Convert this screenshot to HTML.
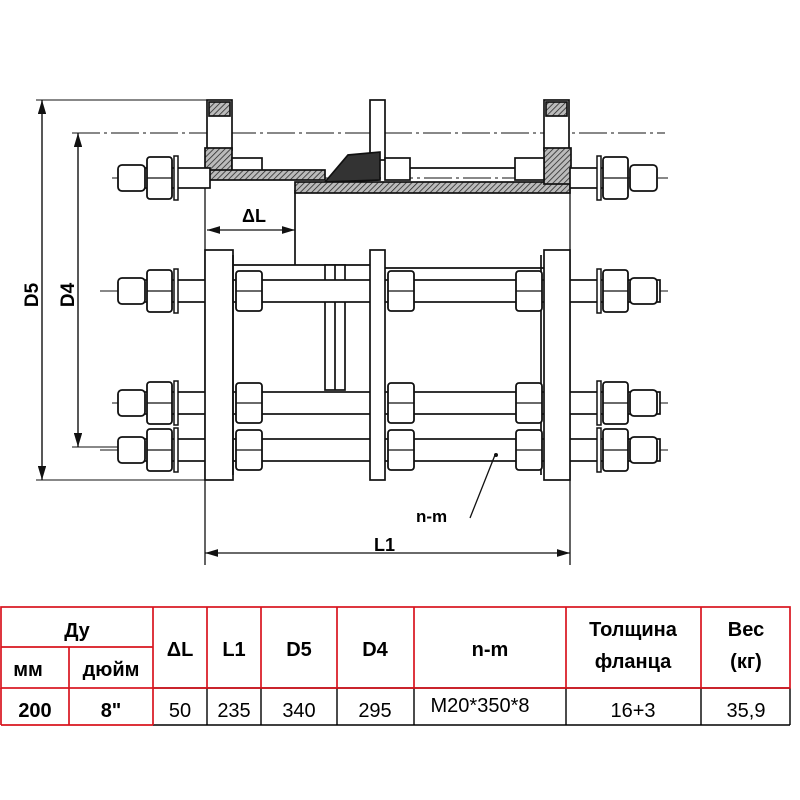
<!DOCTYPE html>
<html><head><meta charset="utf-8"><style>
body{margin:0;background:#fff;}
svg{display:block}
text{font-family:"Liberation Sans",Arial,sans-serif;}
</style></head><body>
<svg width="800" height="800" viewBox="0 0 800 800" xmlns="http://www.w3.org/2000/svg">
<defs>
<pattern id="h" width="4" height="4" patternUnits="userSpaceOnUse" patternTransform="rotate(45)"><rect width="4" height="4" fill="#bbb"/><line x1="0" y1="0" x2="0" y2="4" stroke="#222" stroke-width="1.5"/></pattern>
<marker id="a" markerWidth="10" markerHeight="6" refX="10" refY="3" orient="auto-start-reverse"><path d="M0,0 L10,3 L0,6z" fill="#111"/></marker>
<g id="nutL">
<rect x="0" y="-13" width="27" height="26" rx="4" fill="#fff" stroke="#111" stroke-width="1.8"/>
<rect x="29" y="-21" width="25" height="42" rx="3" fill="#fff" stroke="#111" stroke-width="1.8"/>
<line x1="29" y1="0" x2="54" y2="0" stroke="#111" stroke-width="1.3"/>
<rect x="56" y="-22" width="4" height="44" fill="#fff" stroke="#111" stroke-width="1.5"/>
</g>
<g id="nut">
<rect x="0" y="-20" width="26" height="40" rx="3" fill="#fff" stroke="#111" stroke-width="1.8"/>
<line x1="0" y1="0" x2="26" y2="0" stroke="#111" stroke-width="1.3"/>
</g>
</defs>
<g fill="none" stroke="#111" stroke-width="1.7">
<line x1="42" y1="100" x2="42" y2="480" marker-start="url(#a)" marker-end="url(#a)" stroke-width="1.4"/>
<line x1="78" y1="133" x2="78" y2="447" marker-start="url(#a)" marker-end="url(#a)" stroke-width="1.4"/>
<line x1="36" y1="100" x2="207" y2="100" stroke-width="1.1"/>
<line x1="36" y1="480" x2="207" y2="480" stroke-width="1.1"/>
<line x1="72" y1="133" x2="665" y2="133" stroke-width="1.1" stroke-dasharray="28 4 3 4"/>
<line x1="72" y1="447" x2="125" y2="447" stroke-width="1.1"/>
<g stroke-width="1.1" stroke-dasharray="28 4 3 4">
<line x1="112" y1="178" x2="668" y2="178"/>
<line x1="100" y1="291" x2="668" y2="291"/>
<line x1="112" y1="403" x2="668" y2="403"/>
<line x1="100" y1="450" x2="668" y2="450"/>
</g>
<line x1="205" y1="180" x2="205" y2="565" stroke-width="1.3"/>
<line x1="570" y1="180" x2="570" y2="565" stroke-width="1.3"/>
<line x1="295" y1="190" x2="295" y2="265"/>
<line x1="233" y1="265" x2="370" y2="265"/>
<line x1="385" y1="268" x2="544" y2="268"/>
<rect x="325" y="265" width="20" height="125" fill="#fff"/>
<line x1="335" y1="265" x2="335" y2="390"/>
<rect x="207" y="100" width="25" height="50" fill="#fff"/>
<rect x="209" y="102" width="21" height="14" fill="url(#h)"/>
<rect x="205" y="148" width="27" height="24" fill="url(#h)"/>
<rect x="232" y="158" width="30" height="14" fill="#fff"/>
<rect x="207" y="170" width="118" height="10" fill="url(#h)"/>
<rect x="370" y="100" width="15" height="60" fill="#fff"/>
<path d="M325,182 L348,155 L380,152 L380,180z" fill="#333"/>
<rect x="385" y="158" width="25" height="22" fill="#fff"/>
<rect x="295" y="182" width="275" height="11" fill="url(#h)"/>
<rect x="544" y="100" width="25" height="50" fill="#fff"/>
<rect x="546" y="102" width="21" height="14" fill="url(#h)"/>
<rect x="544" y="148" width="27" height="36" fill="url(#h)"/>
<rect x="515" y="158" width="29" height="22" fill="#fff"/>
<line x1="410" y1="168" x2="515" y2="168"/>
<g fill="#fff">
<rect x="140" y="168" width="70" height="20"/>
<rect x="570" y="168" width="40" height="20"/>
<rect x="140" y="280" width="520" height="22"/>
<rect x="140" y="392" width="520" height="22"/>
<rect x="140" y="439" width="520" height="22"/>
</g>
<rect x="205" y="250" width="28" height="230" fill="#fff"/>
<rect x="370" y="250" width="15" height="230" fill="#fff"/>
<rect x="544" y="250" width="26" height="230" fill="#fff"/>
<line x1="233" y1="255" x2="233" y2="475"/>
<line x1="541" y1="255" x2="541" y2="475"/>
</g>
<use href="#nutL" x="118" y="178"/>
<use href="#nutL" x="118" y="291"/>
<use href="#nutL" x="118" y="403"/>
<use href="#nutL" x="118" y="450"/>
<g transform="translate(657,0) scale(-1,1)">
<use href="#nutL" x="0" y="178"/>
<use href="#nutL" x="0" y="291"/>
<use href="#nutL" x="0" y="403"/>
<use href="#nutL" x="0" y="450"/>
</g>
<use href="#nut" x="236" y="291"/><use href="#nut" x="388" y="291"/><use href="#nut" x="516" y="291"/>
<use href="#nut" x="236" y="403"/><use href="#nut" x="388" y="403"/><use href="#nut" x="516" y="403"/>
<use href="#nut" x="236" y="450"/><use href="#nut" x="388" y="450"/><use href="#nut" x="516" y="450"/>
<g stroke="#111" stroke-width="1.3" fill="none">
<line x1="207" y1="230" x2="295" y2="230" marker-start="url(#a)" marker-end="url(#a)"/>
<line x1="205" y1="553" x2="570" y2="553" marker-start="url(#a)" marker-end="url(#a)"/>
<line x1="470" y1="518" x2="495" y2="455"/>
</g>
<circle cx="496" cy="455" r="2" fill="#111"/>
<g font-weight="bold">
<text x="242" y="222" font-size="18">ΔL</text>
<text x="374" y="551" font-size="18">L1</text>
<text x="416" y="522" font-size="17">n-m</text>
<text transform="translate(38,295) rotate(-90)" font-size="19" text-anchor="middle">D5</text>
<text transform="translate(74,295) rotate(-90)" font-size="19" text-anchor="middle">D4</text>
</g>
<g stroke="#000" stroke-width="1.4">
<line x1="153" y1="688" x2="790" y2="688"/>
<line x1="153" y1="725" x2="790" y2="725"/>
<line x1="207" y1="688" x2="207" y2="725"/><line x1="261" y1="688" x2="261" y2="725"/>
<line x1="337" y1="688" x2="337" y2="725"/><line x1="414" y1="688" x2="414" y2="725"/>
<line x1="566" y1="688" x2="566" y2="725"/><line x1="701" y1="688" x2="701" y2="725"/>
<line x1="790" y1="688" x2="790" y2="725"/>
</g>
<g stroke="#d8141e" stroke-width="1.7" fill="none">
<rect x="1" y="607" width="789" height="81"/>
<line x1="1" y1="647" x2="153" y2="647"/>
<line x1="69" y1="647" x2="69" y2="725"/>
<line x1="153" y1="607" x2="153" y2="725"/>
<line x1="1" y1="688" x2="1" y2="725"/><line x1="1" y1="725" x2="153" y2="725"/>
<line x1="207" y1="607" x2="207" y2="688"/><line x1="261" y1="607" x2="261" y2="688"/>
<line x1="337" y1="607" x2="337" y2="688"/><line x1="414" y1="607" x2="414" y2="688"/>
<line x1="566" y1="607" x2="566" y2="688"/><line x1="701" y1="607" x2="701" y2="688"/>
</g>
<g font-size="20" font-weight="bold" text-anchor="middle">
<text x="77" y="637">Ду</text>
<text x="28" y="676">мм</text>
<text x="111" y="676">дюйм</text>
<text x="180" y="656">ΔL</text>
<text x="234" y="656">L1</text>
<text x="299" y="656">D5</text>
<text x="375" y="656">D4</text>
<text x="490" y="656">n-m</text>
<text x="633" y="636">Толщина</text>
<text x="633" y="668">фланца</text>
<text x="746" y="636">Вес</text>
<text x="746" y="668">(кг)</text>
<text x="35" y="717">200</text>
<text x="111" y="717">8"</text>
</g>
<g font-size="20" text-anchor="middle">
<text x="180" y="717">50</text>
<text x="234" y="717">235</text>
<text x="299" y="717">340</text>
<text x="375" y="717">295</text>
<text x="480" y="712">M20*350*8</text>
<text x="633" y="717">16+3</text>
<text x="746" y="717">35,9</text>
</g>
</svg>
</body></html>
